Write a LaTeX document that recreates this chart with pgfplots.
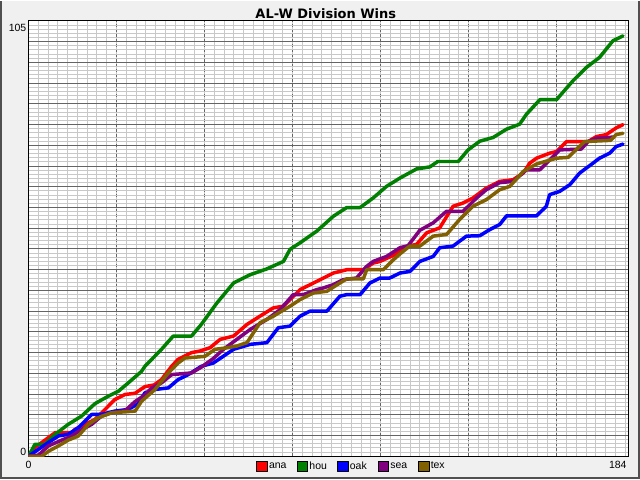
\documentclass[border=0pt]{standalone}
\usepackage{pgfplots}
\pgfplotsset{compat=1.18}
\usepackage{fontspec}
\setmainfont{Liberation Sans}
\newfontfamily\titlefont{DejaVu Sans}
\definecolor{bggray}{RGB}{240,240,240}
\definecolor{framegray}{RGB}{80,80,80}
\definecolor{majgrid}{RGB}{100,100,100}
\definecolor{mingrid}{RGB}{200,200,200}
\definecolor{cana}{RGB}{255,0,0}
\definecolor{chou}{RGB}{0,128,0}
\definecolor{coak}{RGB}{0,0,255}
\definecolor{csea}{RGB}{128,0,128}
\definecolor{ctex}{RGB}{128,96,0}
\pgfplotsset{
  sq/.style={legend image code/.code={\draw[fill=#1,draw=black,line width=0.8bp] (0bp,-5.3bp) rectangle (10.7bp,5.3bp);}},
  teamline/.style={line width=3.5bp, line join=round, line cap=round, mark=none},
}
\begin{document}
\begin{tikzpicture}[x=1bp,y=1bp]
\fill[bggray] (0,0) rectangle (640,480);
\draw[framegray, line width=2bp] (1,479) -- (1,1) -- (639,1) -- (639,479);
\draw[white, line width=1bp] (0,479.5) -- (640,479.5);
\begin{axis}[
  at={(28bp,23bp)}, anchor=south west, scale only axis,
  width=601bp, height=436bp,
  xmin=0, xmax=184, ymin=0, ymax=105,
  axis background/.style={fill=white},
  axis line style={black, line width=1bp},
  xtick={27,54,...,162}, xticklabels={},
  ytick={5,10,...,100}, yticklabels={},
  minor xtick={3,6,...,183}, minor ytick={1,2,...,104},
  grid=both,
  major x grid style={majgrid, line width=1bp, dash pattern=on 3bp off 2bp},
  major y grid style={majgrid, line width=1bp},
  minor grid style={mingrid, line width=1bp},
  major tick length=0pt, minor tick length=0pt,
  extra x ticks={0,184}, extra x tick labels={0,\llap{184\hspace{2bp}}},
  extra x tick style={grid=none, xticklabel style={anchor=north, inner sep=0pt, yshift=-4.7bp}},
  extra y ticks={0,105}, extra y tick labels={\raisebox{1bp}{0},\raisebox{-11bp}{105}},
  extra y tick style={grid=none, yticklabel style={anchor=base east, inner sep=0pt, xshift=-2bp}},
  tick label style={font=\fontsize{10.5bp}{12bp}\selectfont},
  /pgf/number format/assume math mode=true,
  title={AL-W Division Wins},
  title style={at={(0.5,1)}, anchor=base, yshift=-3.3bp, xshift=-2.7bp, inner sep=0pt,
    font=\titlefont\bfseries\fontsize{13bp}{15bp}\selectfont},
  legend columns=-1,
  legend style={at={(0.3794,-0.0229)}, anchor=west, draw=none, fill=none, inner sep=0pt,
    font=\fontsize{10.5bp}{12bp}\selectfont,
    nodes={inner sep=1.2bp, text width=26.6bp, align=left}},
]
\addplot[cana, teamline, sq=cana] coordinates {
(0,0) (2,2.1) (6.1,4.5) (8.2,5.7) (13.3,5.7) (14.3,6.5) (17.4,7.7) (20.4,8.9) (23.5,11.3) (26.5,13.7) (29.6,14.9) (32.7,15.2) (35.7,16.8) (38.5,17.2) (40.8,18.5) (43.9,21.7) (45.9,23.4) (50,25) (52.7,25.4) (55.7,26.2) (58.8,28.2) (62.9,29) (67,31.8) (71,33.8) (75.1,35.8) (78.2,36.2) (83.3,40.2) (87.4,41.8) (93.5,44.2) (97.6,45) (102.7,45) (105.7,46.6) (107.8,47) (112,48.5) (116.4,50.7) (119,51.1) (122.1,53.9) (126.1,55.1) (130.2,60.3) (133.3,61.1) (136.3,62.3) (140.4,64.7) (144.5,66.3) (148.6,66.7) (151.7,68.3) (153.7,70.7) (155.8,71.9) (159.8,73.1) (161.9,73.5) (165,75.9) (171.6,75.9) (174.1,77.1) (177.2,77.6) (180.2,79.2) (182.3,80)
};
\addlegendentry{ana}
\addplot[chou, teamline, sq=chou] coordinates {
(0,0) (2,2.9) (5,2.9) (8.2,5.3) (12.2,7.7) (16.3,9.7) (20.4,12.7) (24.5,14.5) (27.6,15.7) (30.6,17.7) (34.7,20.5) (35.7,21.7) (40.8,25.8) (44.4,29) (50,29) (53,31.8) (57.8,37) (62.9,41.8) (68,43.8) (73.1,45.2) (78.2,47) (80.2,49.9) (83.3,51.5) (88.4,54.3) (93.5,57.9) (97.6,60) (101.7,60) (105.7,62.3) (109.8,65.1) (113.9,67.1) (119,69.3) (123.1,69.8) (125.5,71.1) (131.8,71.1) (134.8,73.9) (138.4,76) (142.5,76.9) (146.6,78.9) (150.6,80.1) (152.7,82.5) (156.8,86) (161.9,86) (167,90.6) (171.1,93.8) (175.1,96.2) (179.2,100.2) (182.3,101.4)
};
\addlegendentry{hou}
\addplot[coak, teamline, sq=coak] coordinates {
(0,0) (3.1,1.7) (6.1,3.3) (9.2,4.9) (12.2,5.3) (15.3,6.9) (19.4,10.1) (22.4,10.1) (26.5,10.9) (30.6,11.3) (33.7,12.7) (35.7,15.3) (38.8,16.1) (42.9,16.5) (45.9,18.5) (49,19.7) (53,21.7) (56.7,22.5) (62.9,25.8) (68,27) (73.1,27.4) (76.6,31) (80.2,31.4) (83.3,33.8) (86.3,35) (91.5,35) (95.5,38.6) (97.6,39) (101.7,39) (104.7,41.8) (107.8,43) (110.8,43) (113.9,44.2) (117,44.6) (120,47) (124.1,48.2) (126.1,50.3) (130.2,50.7) (134.3,53.1) (138.4,53.2) (141.5,54.7) (144.5,55.9) (146.6,58) (155.8,58) (158.8,60.3) (159.8,63.1) (162.9,63.9) (166,65.5) (169,68.3) (173.1,70.7) (175.1,71.9) (178.2,73.1) (180.2,74.7) (182.3,75.3)
};
\addlegendentry{oak}
\addplot[csea, teamline, sq=csea] coordinates {
(0,0) (3.1,0.3) (6.1,2.5) (10.2,3.9) (13.3,4.9) (15.3,6) (19.4,7.7) (22.4,9.7) (25.5,10.5) (29.6,11) (32.7,13.2) (35.7,14.8) (37.8,16.5) (40.8,17.7) (43.9,19.7) (50,20.1) (53,21.5) (56.7,23.6) (59.8,25.8) (63.9,28.2) (68,30.6) (73.1,33) (77.2,35.4) (81.2,39) (84.3,39) (88.4,40.2) (90.4,40.6) (93.5,41.4) (96.5,42.6) (100.6,43) (103.7,45.8) (105.7,47) (109.8,48.2) (113.9,50.3) (116.4,50.8) (120,54.5) (124.1,56.3) (128.2,59.1) (133.3,59.1) (137.4,62.3) (140.4,64.3) (144.5,66) (148.6,66.3) (152.7,69.1) (156.8,69.1) (162.9,73.9) (169.5,74.1) (171.6,75.9) (174.1,76.7) (179.5,77)
};
\addlegendentry{sea}
\addplot[ctex, teamline, sq=ctex] coordinates {
(0,0) (4.1,0) (6.1,1.2) (9.2,2.5) (12.2,3.9) (15.3,4.9) (18.4,7.7) (21.4,9.3) (25.5,10.5) (32.7,10.9) (34.7,13.3) (38.8,16.1) (42.9,20.1) (45.9,22.5) (48,23.7) (54.1,24.1) (57.2,25.8) (61.2,26.2) (63.9,26.6) (67,27.4) (71,32.2) (75.1,33.8) (80.2,36.2) (83.3,37.8) (87.4,39.4) (91.5,39.8) (95.5,41.8) (97.6,42.8) (102.7,42.8) (103.7,45) (108.8,45) (111.9,47.4) (113.9,48.8) (116.9,50.7) (120,50.7) (124.1,53.1) (128.2,53.5) (132.2,57.1) (136.3,60.3) (140.4,61.9) (144.5,64.3) (147.6,65.1) (151.7,68.7) (155.8,70.5) (161.9,71.9) (165.5,72.1) (170.5,75.9) (178.5,76.2) (180.2,77.6) (182.3,77.9)
};
\addlegendentry{tex}
\end{axis}
\end{tikzpicture}
\end{document}
